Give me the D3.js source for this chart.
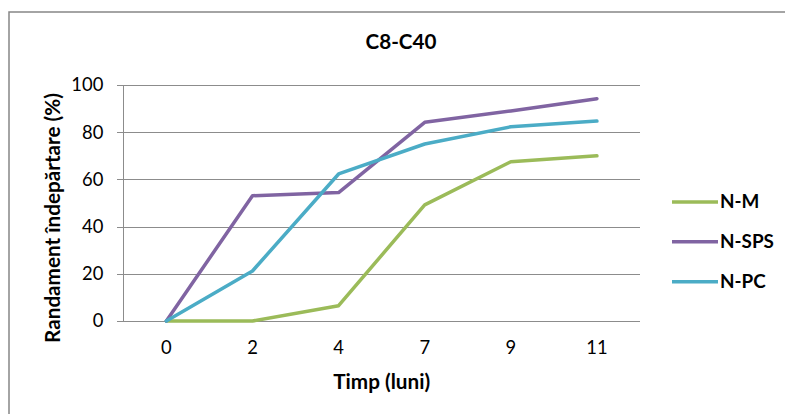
<!DOCTYPE html>
<html><head><meta charset="utf-8">
<script src="https://cdn.jsdelivr.net/npm/d3@7"></script>
<style>body{margin:0;background:#fff}svg{display:block}</style>
</head><body>
<svg id="c" width="785" height="414"></svg>
<script>
const title = "C8-C40";
const xTitle = "Timp (luni)";
const yTitle = "Randament îndepărtare (%)";
const categories = ["0", "2", "4", "7", "9", "11"];
const yTicks = [0, 20, 40, 60, 80, 100];
const seriesNames = ["N-M", "N-SPS", "N-PC"];
const seriesColors = ["#9BBB59", "#8064A2", "#4BACC6"];
const valuesNM = [0, 0, 6.5, 49.2, 67.5, 70];
const valuesNSPS = [0, 53.1, 54.4, 84.2, 89, 94.2];
const valuesNPC = [0, 21.2, 62.3, 75, 82.3, 84.7];
const seriesValues = [valuesNM, valuesNSPS, valuesNPC];

(function () {
const FONT = "Lato, 'Open Sans', sans-serif";
const svg = d3.select("#c");
svg.append("rect").attr("x", 9).attr("y", 12).attr("width", 800).attr("height", 420)
  .attr("fill", "#fff").attr("stroke", "#868686").attr("stroke-width", 1.5);

const pl = 123.3, pr = 640, pt = 85, pb = 321;
const x = d3.scaleBand().domain(categories).range([pl, pr]);
const y = d3.scaleLinear().domain([0, 100]).range([pb, pt]);

function fit(sel, target) {
  const w = sel.node().getComputedTextLength();
  const fs = parseFloat(sel.attr("font-size"));
  sel.attr("font-size", fs * target / w);
}

const gy = svg.append("g").attr("transform", `translate(${pl},0)`)
  .call(d3.axisLeft(y).tickValues(yTicks).tickSize(-(pr - pl)).tickSizeOuter(0).tickFormat(""));
gy.select(".domain").remove();
gy.selectAll(".tick line").attr("stroke", "#8c8c8c").attr("stroke-width", 1).attr("shape-rendering", "crispEdges");
const yt = svg.append("g").attr("transform", `translate(${pl},0)`)
  .call(d3.axisLeft(y).tickValues(yTicks).tickSize(6).tickPadding(14).tickSizeOuter(0));
yt.select(".domain").attr("stroke", "#8c8c8c").attr("shape-rendering", "crispEdges");
yt.selectAll(".tick line").attr("stroke", "#8c8c8c").attr("shape-rendering", "crispEdges");
yt.selectAll(".tick text").attr("font-family", FONT).attr("font-size", 17).attr("fill", "#000");
const t100 = yt.selectAll(".tick text").filter(d => d === 100);
fit(t100, 32);
const tickFs = t100.attr("font-size");
yt.selectAll(".tick text").attr("font-size", tickFs);
const xa = svg.append("g").attr("transform", `translate(0,${pb})`)
  .call(d3.axisBottom(x).tickSize(0).tickPadding(20).tickSizeOuter(0));
xa.select(".domain").attr("stroke", "#8c8c8c").attr("shape-rendering", "crispEdges")
  .attr("d", `M${pl - 6},0.5H${pr}`);
xa.selectAll(".tick text").attr("font-family", FONT).attr("font-size", tickFs).attr("fill", "#000");

const line = d3.line().x((d, i) => x(categories[i]) + x.bandwidth() / 2).y(d => y(d));
seriesValues.forEach((vals, k) => {
  svg.append("path").datum(vals).attr("d", line).attr("fill", "none")
    .attr("stroke", seriesColors[k]).attr("stroke-width", 3.5)
    .attr("stroke-linejoin", "round").attr("stroke-linecap", "round");
});

const t = svg.append("text").attr("x", 401).attr("y", 49.3).attr("text-anchor", "middle")
  .attr("font-family", FONT).attr("font-weight", "bold").attr("font-size", 18).text(title);
fit(t, 71);
const xt = svg.append("text").attr("x", (pl + pr) / 2).attr("y", 389).attr("text-anchor", "middle")
  .attr("font-family", FONT).attr("font-weight", "bold").attr("font-size", 16).text(xTitle);
fit(xt, 97);
const ytt = svg.append("text").attr("transform", "translate(60,218) rotate(-90)").attr("text-anchor", "middle")
  .attr("font-family", FONT).attr("font-weight", "bold").attr("font-size", 16).text(yTitle);
fit(ytt, 250);

const legY = [202, 241.7, 281.7];
let legFs = 16;
const legTexts = seriesNames.map((n, k) => {
  svg.append("line").attr("x1", 672).attr("x2", 718).attr("y1", legY[k]).attr("y2", legY[k])
    .attr("stroke", seriesColors[k]).attr("stroke-width", 3.5);
  return svg.append("text").attr("x", 720).attr("y", legY[k] + 5.8)
    .attr("font-family", FONT).attr("font-weight", "bold").attr("font-size", 16).text(n);
});
fit(legTexts[1], 54);
legFs = legTexts[1].attr("font-size");
legTexts.forEach(s => s.attr("font-size", legFs));
})();
</script>
</body></html>
